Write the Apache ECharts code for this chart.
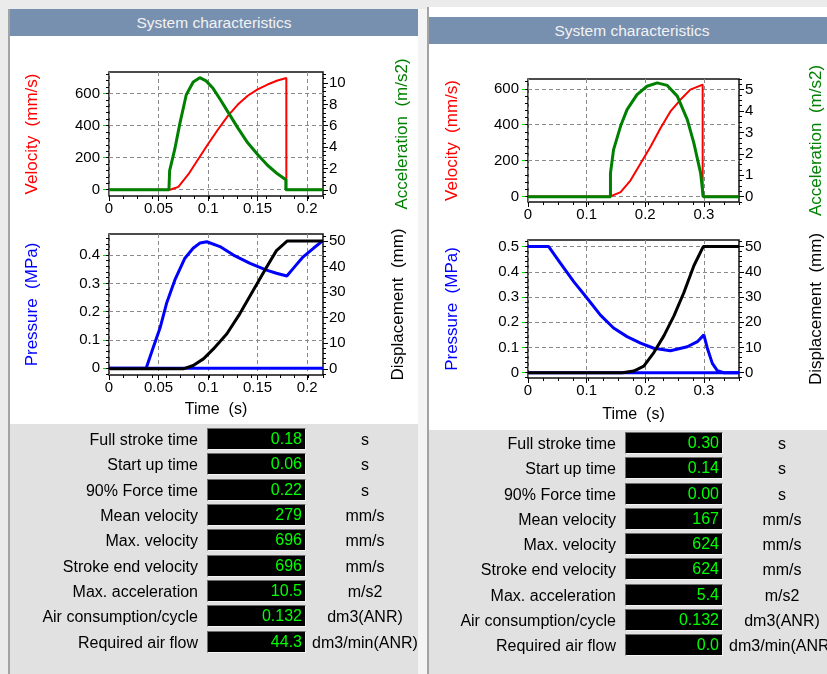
<!DOCTYPE html>
<html>
<head>
<meta charset="utf-8">
<title>System characteristics</title>
<script src="https://cdn.jsdelivr.net/npm/echarts@6.0.0/dist/echarts.min.js"></script>
<style>
  html, body { margin: 0; padding: 0; }
  body { width: 827px; height: 674px; overflow: hidden; position: relative; background: #ebebeb;
         font-family: Arial, "Liberation Sans", sans-serif; }
  .panel { position: absolute; background: #fff; border-left: 2px solid #a3a3a3; }
  .bar { position: absolute; height: 27px; line-height: 27px; background: #7890b0; color: #f2f2f2;
         font-size: 15.5px; text-align: center; z-index: 3; }
  .tbl { position: absolute; background: #e1e1e1; }
  #chart { position: absolute; left: 0; top: 0; width: 827px; height: 674px; z-index: 2; }
  .lbl, .unit, .box { position: absolute; font-size: 16px; height: 20px; line-height: 20px; z-index: 3; white-space: nowrap; }
  .lbl { text-align: right; color: #000; }
  .unit { text-align: center; color: #000; }
  .box { background: #000; color: #00ff00; text-align: right; box-sizing: border-box; height: 22px; line-height: 20px;
         padding-right: 3px; border: 1px solid; border-color: #6e6e6e #f4f4f4 #f4f4f4 #6e6e6e; }
</style>
</head>
<body>
<div class="panel" style="left:8px;top:9px;width:408px;height:665px;"></div>
<div style="position:absolute;left:418px;top:9px;width:9px;height:665px;background:#f4f4f4;"></div>
<div class="panel" style="left:427px;top:7px;width:398px;height:667px;"></div>
<div class="bar" style="left:10px;top:9px;width:408px;">System characteristics</div>
<div class="bar" style="left:429px;top:17px;width:406px;">System characteristics</div>
<div class="tbl" style="left:10px;top:424px;width:408px;height:250px;"></div>
<div class="tbl" style="left:429px;top:430px;width:398px;height:244px;"></div>
<div id="chart"></div>
<div id="rows"></div>

<script>
// ---- left panel (fast stroke) ----
var timeTicksL = [0, 0.05, 0.1, 0.15, 0.2];
var velTicks = [0, 200, 400, 600];
var accTicksL = [0, 2, 4, 6, 8, 10];
var presTicksL = [0, 0.1, 0.2, 0.3, 0.4];
var dispTicks = [0, 10, 20, 30, 40, 50];

var velTimeL = [0, 0.0616, 0.07, 0.08, 0.09, 0.10, 0.11, 0.12, 0.13, 0.14, 0.15, 0.16, 0.17, 0.179, 0.179, 0.216];
var velL     = [0, 0, 18, 95, 190, 285, 375, 460, 530, 585, 625, 655, 680, 696, 0, 0];

var accTimeL = [0, 0.0605, 0.0612, 0.0664, 0.0715, 0.078, 0.085, 0.0916, 0.098, 0.105, 0.112, 0.12, 0.13, 0.14, 0.15, 0.16, 0.17, 0.1785, 0.1785, 0.216];
var accL     = [0, 0, 1.8, 3.8, 6.2, 8.9, 10.1, 10.5, 10.2, 9.5, 8.5, 7.3, 5.8, 4.4, 3.3, 2.3, 1.5, 0.95, 0, 0];

var presTimeL = [0, 0.0375, 0.0448, 0.0515, 0.0583, 0.0665, 0.0766, 0.0849, 0.092, 0.0987, 0.112, 0.1256, 0.1424, 0.159, 0.169, 0.1795, 0.186, 0.196, 0.2063, 0.216];
var presL     = [0, 0, 0.075, 0.142, 0.232, 0.312, 0.389, 0.424, 0.443, 0.447, 0.43, 0.40, 0.371, 0.347, 0.336, 0.326, 0.353, 0.394, 0.424, 0.451];
var exhTimeL = [0, 0.216];
var exhL     = [0, 0];

var dispTimeL = [0, 0.075, 0.085, 0.0953, 0.1054, 0.119, 0.132, 0.1455, 0.159, 0.169, 0.18, 0.216];
var dispL     = [0, 0, 1.3, 3.9, 7.8, 13.7, 21.5, 30.6, 39.7, 46.2, 50, 50];

// ---- right panel (slow stroke) ----
var timeTicksR = [0, 0.1, 0.2, 0.3];
var accTicksR = [0, 1, 2, 3, 4, 5];
var presTicksR = [0, 0.1, 0.2, 0.3, 0.4, 0.5];

var velTimeR = [0, 0.1407, 0.158, 0.175, 0.192, 0.209, 0.226, 0.243, 0.26, 0.277, 0.298, 0.298, 0.36];
var velR     = [0, 0, 24, 90, 184, 277, 380, 474, 539, 596, 624, 0, 0];

var accTimeR = [0, 0.1407, 0.1407, 0.146, 0.158, 0.169, 0.186, 0.203, 0.2205, 0.2376, 0.2547, 0.2718, 0.283, 0.2945, 0.299, 0.36];
var accR     = [0, 0, 1.1, 2.2, 3.3, 4.07, 4.77, 5.16, 5.32, 5.2, 4.7, 3.6, 2.5, 1.1, 0, 0];

var presTimeR = [0, 0.0353, 0.0552, 0.078, 0.1009, 0.1236, 0.146, 0.169, 0.192, 0.2147, 0.243, 0.2718, 0.289, 0.300, 0.306, 0.3145, 0.323, 0.334, 0.36];
var presR     = [0.5, 0.5, 0.434, 0.361, 0.295, 0.228, 0.177, 0.143, 0.117, 0.097, 0.087, 0.103, 0.123, 0.15, 0.097, 0.037, 0.008, 0, 0];
var exhTimeR = [0, 0.36];
var exhR     = [0, 0];

var dispTimeR = [0, 0.1607, 0.1805, 0.1976, 0.2147, 0.2318, 0.249, 0.266, 0.283, 0.299, 0.36];
var dispR     = [0, 0, 0.64, 2.6, 8, 14.6, 22.5, 31.8, 42.4, 50, 50];

// ---- result tables ----
var rowLabels = ['Full stroke time', 'Start up time', '90% Force time', 'Mean velocity', 'Max. velocity',
                 'Stroke end velocity', 'Max. acceleration', 'Air consumption/cycle', 'Required air flow'];
var rowUnits = ['s', 's', 's', 'mm/s', 'mm/s', 'mm/s', 'm/s2', 'dm3(ANR)', 'dm3/min(ANR)'];
var valuesL = ['0.18', '0.06', '0.22', '279', '696', '696', '10.5', '0.132', '44.3'];
var valuesR = ['0.30', '0.14', '0.00', '167', '624', '624', '5.4', '0.132', '0.0'];

var FONT = 'Arial, "Liberation Sans", sans-serif';
var RED = '#ff0000', GREEN = '#008000', BLUE = '#0000ff', BLACK = '#000000';

var plots = [
	{ box: [109, 72, 214, 124], x: [0, 0.216], xTicks: timeTicksL, xMinor: 0.0144,
	  left:  { range: [-39, 733], ticks: velTicks, minor: 40, name: 'Velocity  (mm/s)', color: RED, gap: 68 },
	  right: { range: [-0.58, 11.03], ticks: accTicksL, minor: 0.4, name: 'Acceleration  (m/s2)', color: GREEN, gap: 71 },
	  series: [ { t: velTimeL, v: velL, side: 'left', color: RED, width: 2 },
	            { t: accTimeL, v: accL, side: 'right', color: GREEN, width: 3 } ] },
	{ box: [109, 234, 214, 141], x: [0, 0.216], xTicks: timeTicksL, xMinor: 0.0144, xName: 'Time  (s)', xGap: 27,
	  left:  { range: [-0.0237, 0.4745], ticks: presTicksL, minor: 0.02, name: 'Pressure  (MPa)', color: BLUE, gap: 68 },
	  right: { range: [-2.4, 52.7], ticks: dispTicks, minor: 2, name: 'Displacement  (mm)', color: BLACK, gap: 67 },
	  series: [ { t: presTimeL, v: presL, side: 'left', color: BLUE, width: 3 },
	            { t: exhTimeL, v: exhL, side: 'left', color: BLUE, width: 3 },
	            { t: dispTimeL, v: dispL, side: 'right', color: BLACK, width: 3 } ] },
	{ box: [528, 79, 211, 123], x: [0, 0.36], xTicks: timeTicksR, xMinor: 0.0257,
	  left:  { range: [-31.2, 655.2], ticks: velTicks, minor: 40, name: 'Velocity  (mm/s)', color: RED, gap: 67 },
	  right: { range: [-0.25, 5.5], ticks: accTicksR, minor: 0.25, name: 'Acceleration  (m/s2)', color: GREEN, gap: 69 },
	  series: [ { t: velTimeR, v: velR, side: 'left', color: RED, width: 2 },
	            { t: accTimeR, v: accR, side: 'right', color: GREEN, width: 3 } ] },
	{ box: [528, 240, 211, 138], x: [0, 0.36], xTicks: timeTicksR, xMinor: 0.0257, xName: 'Time  (s)', xGap: 29,
	  left:  { range: [-0.021, 0.526], ticks: presTicksR, minor: 0.02, name: 'Pressure  (MPa)', color: BLUE, gap: 67 },
	  right: { range: [-2.1, 52.6], ticks: dispTicks, minor: 2, name: 'Displacement  (mm)', color: BLACK, gap: 69 },
	  series: [ { t: presTimeR, v: presR, side: 'left', color: BLUE, width: 3 },
	            { t: exhTimeR, v: exhR, side: 'left', color: BLUE, width: 3 },
	            { t: dispTimeR, v: dispR, side: 'right', color: BLACK, width: 3 } ] }
];

function pairs(ts, vs) {
	var out = [];
	for (var i = 0; i < ts.length; i++) out.push([ts[i], vs[i]]);
	return out;
}

// tick positions for the small unlabeled ticks
function minorValues(range, step) {
	var out = [];
	for (var k = Math.ceil(range[0] / step); k * step <= range[1] + 1e-9; k++) out.push(+(k * step).toFixed(6));
	return out;
}

var dashed = { color: '#8a8a8a', width: 1, type: [4, 3] };
var grids = [], xAxes = [], yAxes = [], series = [];

function tickOnlyAxis(gi, pos, range, step) {
	return {
		type: 'value', gridIndex: gi, position: pos, min: range[0], max: range[1],
		axisLine: { show: false, onZero: false },
		axisLabel: { show: false },
		splitLine: { show: false },
		axisTick: { show: true, customValues: minorValues(range, step), length: 3, lineStyle: { color: '#000', width: 1 } }
	};
}

function valueYAxis(gi, pos, a) {
	return {
		type: 'value', gridIndex: gi, position: pos, min: a.range[0], max: a.range[1],
		name: a.name, nameLocation: 'middle', nameRotate: 90, nameGap: a.gap,
		nameTextStyle: { color: a.color, fontSize: 17, fontFamily: FONT },
		axisLine: { show: false, onZero: false },
		axisTick: { show: true, customValues: a.ticks, length: pos == 'left' ? 6 : 5,
		            lineStyle: { color: pos == 'left' ? '#00e000' : '#000', width: 1 } },
		axisLabel: { customValues: a.ticks, color: '#000', fontSize: 15, fontFamily: FONT, margin: pos == 'left' ? 9 : 6 },
		splitLine: { show: pos == 'left', lineStyle: dashed }
	};
}

plots.forEach(function (p, gi) {
	grids.push({
		left: p.box[0], top: p.box[1], width: p.box[2], height: p.box[3],
		show: true, borderColor: '#111', borderWidth: 1.5, backgroundColor: 'transparent',
		containLabel: false, outerBoundsMode: 'none'
	});
	var xi = xAxes.length;
	xAxes.push({
		type: 'value', gridIndex: gi, position: 'bottom', min: p.x[0], max: p.x[1],
		name: p.xName || '', nameLocation: 'middle', nameGap: p.xGap || 24,
		nameTextStyle: { color: '#000', fontSize: 16, fontFamily: FONT },
		axisLine: { show: false, onZero: false },
		axisTick: { show: true, customValues: p.xTicks, length: 5, lineStyle: { color: '#000', width: 1 } },
		axisLabel: { customValues: p.xTicks, color: '#000', fontSize: 15, fontFamily: FONT, margin: 5 },
		splitLine: { show: true, lineStyle: dashed }
	});
	xAxes.push(tickOnlyAxis(gi, 'bottom', p.x, p.xMinor));

	var yl = yAxes.length;
	yAxes.push(valueYAxis(gi, 'left', p.left));
	yAxes.push(tickOnlyAxis(gi, 'left', p.left.range, p.left.minor));
	var yr = yAxes.length;
	yAxes.push(valueYAxis(gi, 'right', p.right));
	yAxes.push(tickOnlyAxis(gi, 'right', p.right.range, p.right.minor));

	p.series.forEach(function (s) {
		series.push({
			type: 'line', xAxisIndex: xi, yAxisIndex: s.side == 'left' ? yl : yr,
			data: pairs(s.t, s.v), showSymbol: false, symbol: 'none', clip: true,
			lineStyle: { color: s.color, width: s.width }, itemStyle: { color: s.color }
		});
	});
});

var chart = echarts.init(document.getElementById('chart'));
chart.setOption({
	animation: false,
	textStyle: { fontFamily: FONT },
	grid: grids,
	xAxis: xAxes,
	yAxis: yAxes,
	series: series
});

// ---- tables below the charts ----
function addTable(values, labelRight, boxLeft, boxRight, unitCenter, firstRow, step) {
	var holder = document.getElementById('rows');
	for (var i = 0; i < rowLabels.length; i++) {
		var cy = firstRow + i * step;
		var lbl = document.createElement('div');
		lbl.className = 'lbl';
		lbl.style.left = (labelRight - 200) + 'px';
		lbl.style.width = '200px';
		lbl.style.top = (cy - 10) + 'px';
		lbl.textContent = rowLabels[i];
		holder.appendChild(lbl);

		var box = document.createElement('div');
		box.className = 'box';
		box.style.left = boxLeft + 'px';
		box.style.width = (boxRight - boxLeft) + 'px';
		box.style.top = (cy - 12) + 'px';
		box.textContent = values[i];
		holder.appendChild(box);

		var unit = document.createElement('div');
		unit.className = 'unit';
		unit.style.left = (unitCenter - 70) + 'px';
		unit.style.width = '140px';
		unit.style.top = (cy - 10) + 'px';
		unit.textContent = rowUnits[i];
		holder.appendChild(unit);
	}
}
addTable(valuesL, 198, 207, 306, 365, 440, 25.33);
addTable(valuesR, 616, 625, 723, 782, 444, 25.25);
</script>
</body>
</html>
